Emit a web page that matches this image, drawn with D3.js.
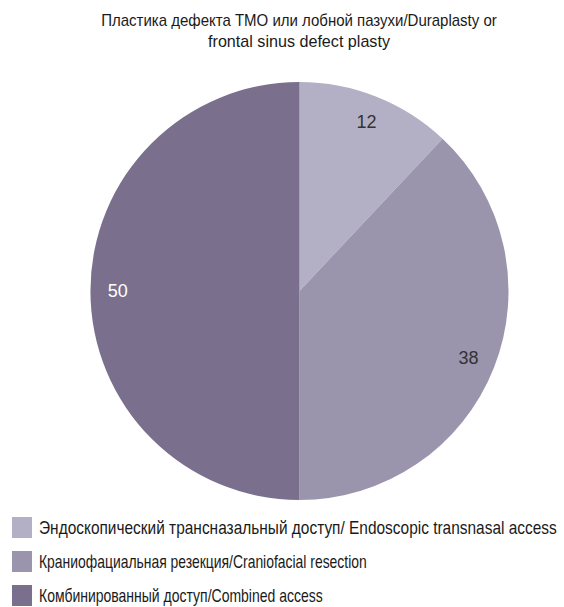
<!DOCTYPE html>
<html>
<head>
<meta charset="utf-8">
<script src="https://cdn.jsdelivr.net/npm/d3@7/dist/d3.min.js"></script>
<style>
  body { margin: 0; background: #fff; }
  .cond { font-family: "Liberation Sans", Arial, sans-serif; }
</style>
</head>
<body>
<svg id="chart" width="564" height="607"></svg>
<script>
const titleLines = ["Пластика дефекта ТМО или лобной пазухи/Duraplasty or", "frontal sinus defect plasty"];
const categories = [
  "Эндоскопический трансназальный доступ/ Endoscopic transnasal access",
  "Краниофациальная резекция/Craniofacial resection",
  "Комбинированный доступ/Combined access"
];
const values = [12, 38, 50];
const colors = ["#b3b0c5", "#9a94ac", "#7a6f8c"];
const labelColors = ["#333333", "#333333", "#ffffff"];

// condensed look: each text run is scaled horizontally to a set width
const titleWidths = [396, 182];
const legendWidths = [518, 328, 284];

const svg = d3.select("#chart");
const cx = 299.5, cy = 291, R = 209;

function condense(sel, widths, x, y, anchorMiddle) {
  sel.each(function (d, i) {
    const w = this.getComputedTextLength();
    const s = widths[i] / w;
    const tx = typeof x === "function" ? x(d, i) : x;
    const ty = typeof y === "function" ? y(d, i) : y;
    d3.select(this).attr("transform", `translate(${tx},${ty}) scale(${s},1)`);
  });
}

// title
const title = svg.append("g").selectAll("text").data(titleLines).join("text")
  .attr("class", "cond")
  .attr("text-anchor", "middle")
  .attr("font-size", 17).attr("fill", "#1a1a1a")
  .text(d => d);
condense(title, titleWidths, 299, (d, i) => 26 + i * 21);

const pie = d3.pie().sort(null).value(d => d);
const arcs = pie(values);
const arc = d3.arc().innerRadius(0).outerRadius(R);
const labelArc = d3.arc().innerRadius(R * 0.87).outerRadius(R * 0.87);

const g = svg.append("g").attr("transform", `translate(${cx},${cy})`);
g.selectAll("path").data(arcs).join("path")
  .attr("d", arc)
  .attr("fill", (d, i) => colors[i]);

g.selectAll("text").data(arcs).join("text")
  .attr("transform", d => `translate(${labelArc.centroid(d)})`)
  .attr("text-anchor", "middle")
  .attr("dy", "0.35em")
  .attr("font-family", "Liberation Sans, Arial, sans-serif")
  .attr("font-size", 18)
  .attr("fill", (d, i) => labelColors[i])
  .text(d => d.data);

// legend
const lg = svg.append("g").selectAll("g").data(categories).join("g")
  .attr("transform", (d, i) => `translate(12, ${517 + i * 34})`);
lg.append("rect").attr("width", 20).attr("height", 21)
  .attr("fill", (d, i) => colors[i]);
const lt = lg.append("text").attr("class", "cond")
  .attr("font-size", 18).attr("fill", "#1a1a1a")
  .text(d => d);
condense(lt, legendWidths, 27, 17);
</script>
</body>
</html>
